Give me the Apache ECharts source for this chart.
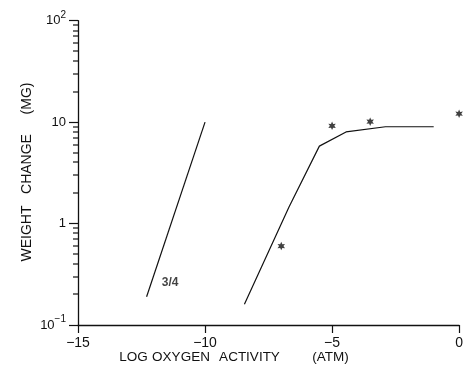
<!DOCTYPE html>
<html>
<head>
<meta charset="utf-8">
<script src="https://cdn.jsdelivr.net/npm/echarts@6/dist/echarts.min.js"></script>
<style>html,body{margin:0;padding:0;background:#fff;}#c{width:466px;height:370px;}</style>
</head>
<body>
<div id="c"></div>
<script>
// ---- data ----
var line34X = [-12.3, -10.0];
var line34Y = [0.19, 10];
var curveX = [-8.45, -6.7, -5.5, -4.45, -2.9, -1.0];
var curveY = [0.16, 1.45, 5.8, 8.0, 9.0, 9.0];
var starX = [-7.0, -5.0, -3.5, 0.0];
var starY = [0.60, 9.2, 10.1, 12.1];
var curveLabel = '3/4';
var curveLabelPos = [-11.7, 0.26];
var xTickValues = [-15, -10, -5, 0];
var xTickLabels = ['\u221215', '\u221210', '\u22125', '0'];
var yTickValues = [0.1, 1, 10, 100];
var yTickLabels = ['10{sup|\u22121}', '{b|1}', '{b|10}', '10{sup|2}'];
var yMinorTicks = [0.2,0.3,0.4,0.5,0.6,0.7,0.8,0.9,2,3,4,5,6,7,8,9,20,30,40,50,60,70,80,90];
var xTitleWords = ['LOG', 'OXYGEN', 'ACTIVITY', '(ATM)'];
var xTitleCenters = [133.5, 181, 249.5, 330.5];
var yTitleWords = ['WEIGHT', 'CHANGE', '(MG)'];
var yTitleCenters = [233.5, 164, 98.5];

var FONT = 'Liberation Sans';
var chart = echarts.init(document.getElementById('c'), null, {renderer: 'canvas'});

function pairs(xs, ys){ return xs.map(function(x,i){ return [x, ys[i]]; }); }

var starPath = 'path://M0 -10 L2.5 -4.33 L8.66 -5 L5 0 L8.66 5 L2.5 4.33 L0 10 L-2.5 4.33 L-8.66 5 L-5 0 L-8.66 -5 L-2.5 -4.33 Z';

function titleGraphics(){
  var g = [];
  xTitleWords.forEach(function(w,i){
    g.push({type:'text', x: xTitleCenters[i], y: 357,
      style:{text:w, font:'13.5px "'+FONT+'"', fill:'#111', textAlign:'center', textVerticalAlign:'middle'}});
  });
  yTitleWords.forEach(function(w,i){
    g.push({type:'text', x: 27, y: yTitleCenters[i], rotation: Math.PI/2,
      style:{text:w, font:'14px "'+FONT+'"', fill:'#111', textAlign:'center', textVerticalAlign:'middle'}});
  });
  return g;
}

chart.setOption({
  animation: false,
  backgroundColor: '#fff',
  grid: {left: 78, right: 2, top: 20.7, bottom: 45, containLabel: false},
  xAxis: {
    type: 'value', min: -15, max: 0, interval: 5,
    axisLine: {onZero: false, lineStyle: {color: '#111', width: 1.3}},
    axisTick: {show: true, length: 8, inside: false, lineStyle: {color: '#111', width: 1.2}},
    splitLine: {show: false},
    axisLabel: {
      color: '#111', fontFamily: FONT, fontSize: 14, margin: 11,
      formatter: function(v){ var i = xTickValues.indexOf(v); return i >= 0 ? xTickLabels[i] : ''; }
    }
  },
  yAxis: {
    type: 'log', logBase: 10, min: 0.1, max: 100,
    axisLine: {show: true, onZero: false, lineStyle: {color: '#111', width: 1.3}},
    axisTick: {show: true, length: 9, inside: false, lineStyle: {color: '#111', width: 1.2}},
    splitLine: {show: false},
    axisLabel: {
      color: '#111', fontFamily: FONT, fontSize: 13, margin: 12,
      formatter: function(v){
        for (var i = 0; i < yTickValues.length; i++) {
          if (Math.abs(Math.log10(v) - Math.log10(yTickValues[i])) < 1e-6) return yTickLabels[i];
        }
        return '';
      },
      rich: {
        b: {fontSize: 13, fontFamily: FONT, color: '#111'},
        sup: {fontSize: 10, fontFamily: FONT, color: '#111', verticalAlign: 'bottom', padding: [0,0,7,0], lineHeight: 10}
      }
    }
  },
  series: [
    {
      type: 'line', data: pairs(line34X, line34Y), showSymbol: false,
      lineStyle: {color: '#111', width: 1.2}, silent: true
    },
    {
      type: 'line', data: pairs(curveX, curveY), showSymbol: false,
      lineStyle: {color: '#111', width: 1.2}, silent: true
    },
    {
      type: 'scatter', data: pairs(starX, starY), symbol: starPath, symbolSize: [7.5, 8.5],
      itemStyle: {color: '#111'}, clip: false, silent: true
    },
    {
      type: 'scatter', data: [curveLabelPos], symbolSize: 0,
      label: {show: true, position: 'right', distance: 0, formatter: curveLabel,
        color: '#111', fontFamily: FONT, fontSize: 12, fontWeight: 'bold'},
      silent: true
    }
  ]
});

// minor ticks on the log y axis, placed through the chart's own scale
var minorGraphics = [];
yMinorTicks.forEach(function(v){
  var p = chart.convertToPixel({gridIndex: 0}, [-15, v]);
  if (!p) return;
  minorGraphics.push({type: 'rect', z: 10,
    shape: {x: p[0] - 5, y: Math.round(p[1]) - 0.6, width: 5, height: 1.2},
    style: {fill: '#111'}});
});
chart.setOption({graphic: titleGraphics().concat(minorGraphics)});
</script>
</body>
</html>
